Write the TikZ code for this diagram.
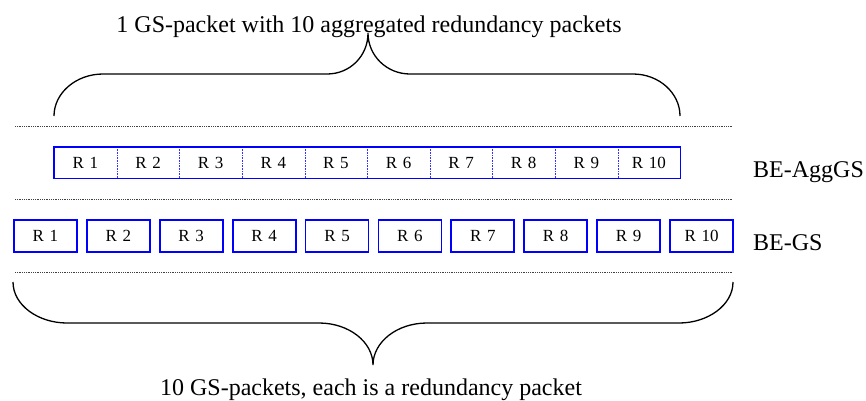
\documentclass[tikz,border=0pt]{standalone}
\usepackage{fontspec}
\setmainfont{Liberation Serif}
\begin{document}
\begin{tikzpicture}[x=1pt,y=-1pt,
  sepline/.style={draw=black!75, line width=0.8pt, dash pattern=on 0.9pt off 0.9pt},
  pkt/.style={draw=blue, line width=1.8pt, fill=white, minimum width=63pt, minimum height=32pt, inner sep=0pt, font=\fontsize{17}{17}\selectfont, anchor=north west},
  cell/.style={minimum width=62.6pt, minimum height=31pt, inner sep=0pt, font=\fontsize{17}{17}\selectfont, anchor=north west},
  divider/.style={draw=blue!80, line width=0.6pt, dash pattern=on 0.8pt off 0.8pt},
  outerbox/.style={draw=blue, line width=1.8pt},
  bracestyle/.style={draw=black, line width=1.3pt},
  bigtext/.style={font=\fontsize{24}{28}\selectfont, inner sep=0pt}
]
\useasboundingbox (0,0) rectangle (866,400);

% separator lines
\coordinate (s1a) at (15,126); \coordinate (s1b) at (733,126);
\coordinate (s2a) at (15,199); \coordinate (s2b) at (733,199);
\coordinate (s3a) at (15,272); \coordinate (s3b) at (733,272);
\draw[sepline] (s1a) -- (s1b);
\draw[sepline] (s2a) -- (s2b);
\draw[sepline] (s3a) -- (s3b);

% aggregated row
\foreach \i in {1,...,10} {
  \node[cell] (a\i) at ({54+62.6*(\i-1)},147) {R\,\,\i};
}
\foreach \i in {1,...,9} {
  \draw[divider] (a\i.north east) -- (a\i.south east);
}
\draw[outerbox] (a1.north west) rectangle (a10.south east);

% individual row
\foreach \i in {1,...,10} {
  \node[pkt] (b\i) at ({13+72.9*(\i-1)},219) {R\,\,\i};
}

% row labels
\node[bigtext, anchor=base west] (lagg) at (753,177) {BE-AggGS};
\node[bigtext, anchor=base west] (lgs) at (753,250) {BE-GS};

% top text and brace
\node[bigtext, anchor=base] (ttop) at (369,32) {1 GS-packet with 10 aggregated redundancy packets};
\coordinate (tl) at (54,116);
\coordinate (tr) at (680,116);
\coordinate (ttip) at (368,33);
\draw[bracestyle] (tl) .. controls (54,93) and (76,74) .. (103,74)
  -- (327,74) .. controls (350,74) and (368,56) .. (ttip)
  .. controls (368,56) and (387,74) .. (410,74)
  -- (633,74) .. controls (659,74) and (680,93) .. (tr);

% bottom text and brace
\node[bigtext, anchor=base] (tbot) at (371,395) {10 GS-packets, each is a redundancy packet};
\coordinate (bl) at (13,282);
\coordinate (br) at (733,282);
\coordinate (btip) at (373,365);
\draw[bracestyle] (bl) .. controls (13,305) and (38,323) .. (67,323)
  -- (319,323) .. controls (349,323) and (373,342) .. (btip)
  .. controls (373,342) and (397,323) .. (427,323)
  -- (679,323) .. controls (708,323) and (733,305) .. (br);
\end{tikzpicture}
\end{document}
